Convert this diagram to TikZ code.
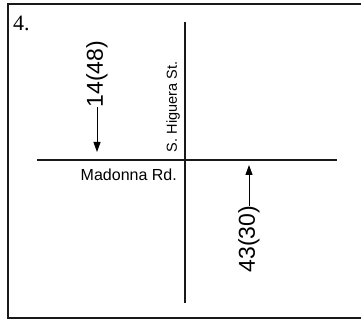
\documentclass[tikz,border=0pt]{standalone}
\usepackage{fontspec}
\setmainfont{Liberation Serif}
\setsansfont{Liberation Sans}
\usetikzlibrary{arrows.meta}
\begin{document}
\begin{tikzpicture}[x=1pt,y=-1pt,
  frameline/.style={line width=2.2pt,draw=black!90},
  road/.style={line width=2pt,draw=black!90},
  flowarrow/.style={line width=1pt,-{Triangle[length=10pt,width=7pt]}},
  flowlabel/.style={font=\sffamily\fontsize{23}{23}\selectfont,rotate=90,inner sep=0pt},
  streetlabel/.style={font=\sffamily\fontsize{14.5}{14.5}\selectfont,inner sep=0pt}]
\useasboundingbox (0,0) rectangle (361,320);
% frame
\draw[frameline] (365,4) -- (8,4) -- (8,318) -- (365,318);
% roads
\coordinate (hw) at (37,160);
\coordinate (he) at (337,160);
\coordinate (vn) at (185,22);
\coordinate (vs) at (185,303);
\draw[road] (hw) -- (he);
\draw[road] (vn) -- (vs);
% number
\node[font=\fontsize{22}{22}\selectfont,anchor=base west,inner sep=0pt] (num) at (13,31) {4.};
% street labels
\node[streetlabel,rotate=90] (higuera) at (173,107) {S. Higuera St.};
\node[streetlabel,font=\sffamily\fontsize{16}{16}\selectfont,anchor=base east] (madonna) at (177,181) {Madonna Rd.};
% flows
\node[flowlabel] (f1) at (97,74) {14(48)};
\coordinate (t1) at (97,152);
\draw[flowarrow] (f1.west) -- (f1.west |- t1);
\node[flowlabel] (f2) at (249,239) {43(30)};
\coordinate (t2) at (249,165);
\draw[flowarrow] (f2.east) -- (f2.east |- t2);
\end{tikzpicture}
\end{document}
